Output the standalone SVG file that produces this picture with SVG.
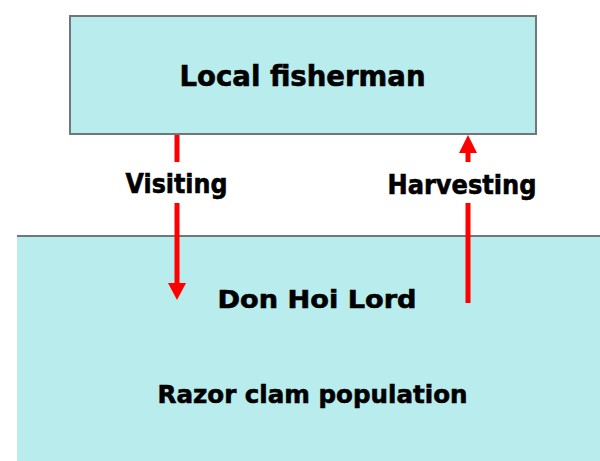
<svg xmlns="http://www.w3.org/2000/svg" width="600" height="461" viewBox="0 0 600 461">
<style>
.box{fill:#b9ecec;stroke:#6e7878;stroke-width:2}
.t{font-family:"DejaVu Sans",Verdana,sans-serif;font-weight:bold;fill:#000;stroke:#000;stroke-width:0.6;text-anchor:middle}
.stem{stroke:#ff0000;stroke-width:5;fill:none}
.head{fill:#ff0000}
</style>
<rect width="600" height="461" fill="#ffffff"/>
<g id="node-bottom">
<rect x="17" y="236" width="583" height="225" fill="#b9ecec"/>
<line x1="17" y1="236" x2="600" y2="236" stroke="#6e7878" stroke-width="2"/>
<text class="t" x="317" y="308" font-size="25" textLength="199" lengthAdjust="spacingAndGlyphs">Don Hoi Lord</text>
<text class="t" x="312.5" y="403" font-size="25" textLength="310" lengthAdjust="spacingAndGlyphs">Razor clam population</text>
</g>
<g id="node-fisherman">
<rect class="box" x="70" y="16" width="466" height="118"/>
<text class="t" x="302.5" y="86" font-size="27.5" textLength="246" lengthAdjust="spacingAndGlyphs">Local fisherman</text>
</g>
<g id="connectors">
<g id="visiting">
<line class="stem" x1="177" y1="135" x2="177" y2="162"/>
<line class="stem" x1="177" y1="203" x2="177" y2="285"/>
<polygon class="head" points="168,283 186,283 177,300"/>
<text class="t" x="176.5" y="193" font-size="26" textLength="102" lengthAdjust="spacingAndGlyphs">Visiting</text>
</g>
<g id="harvesting">
<polygon class="head" points="459,153 477,153 468,135"/>
<line class="stem" x1="468" y1="152" x2="468" y2="162"/>
<line class="stem" x1="468" y1="203" x2="468" y2="303"/>
<text class="t" x="462" y="194" font-size="26" textLength="149" lengthAdjust="spacingAndGlyphs">Harvesting</text>
</g>
</g>
</svg>
